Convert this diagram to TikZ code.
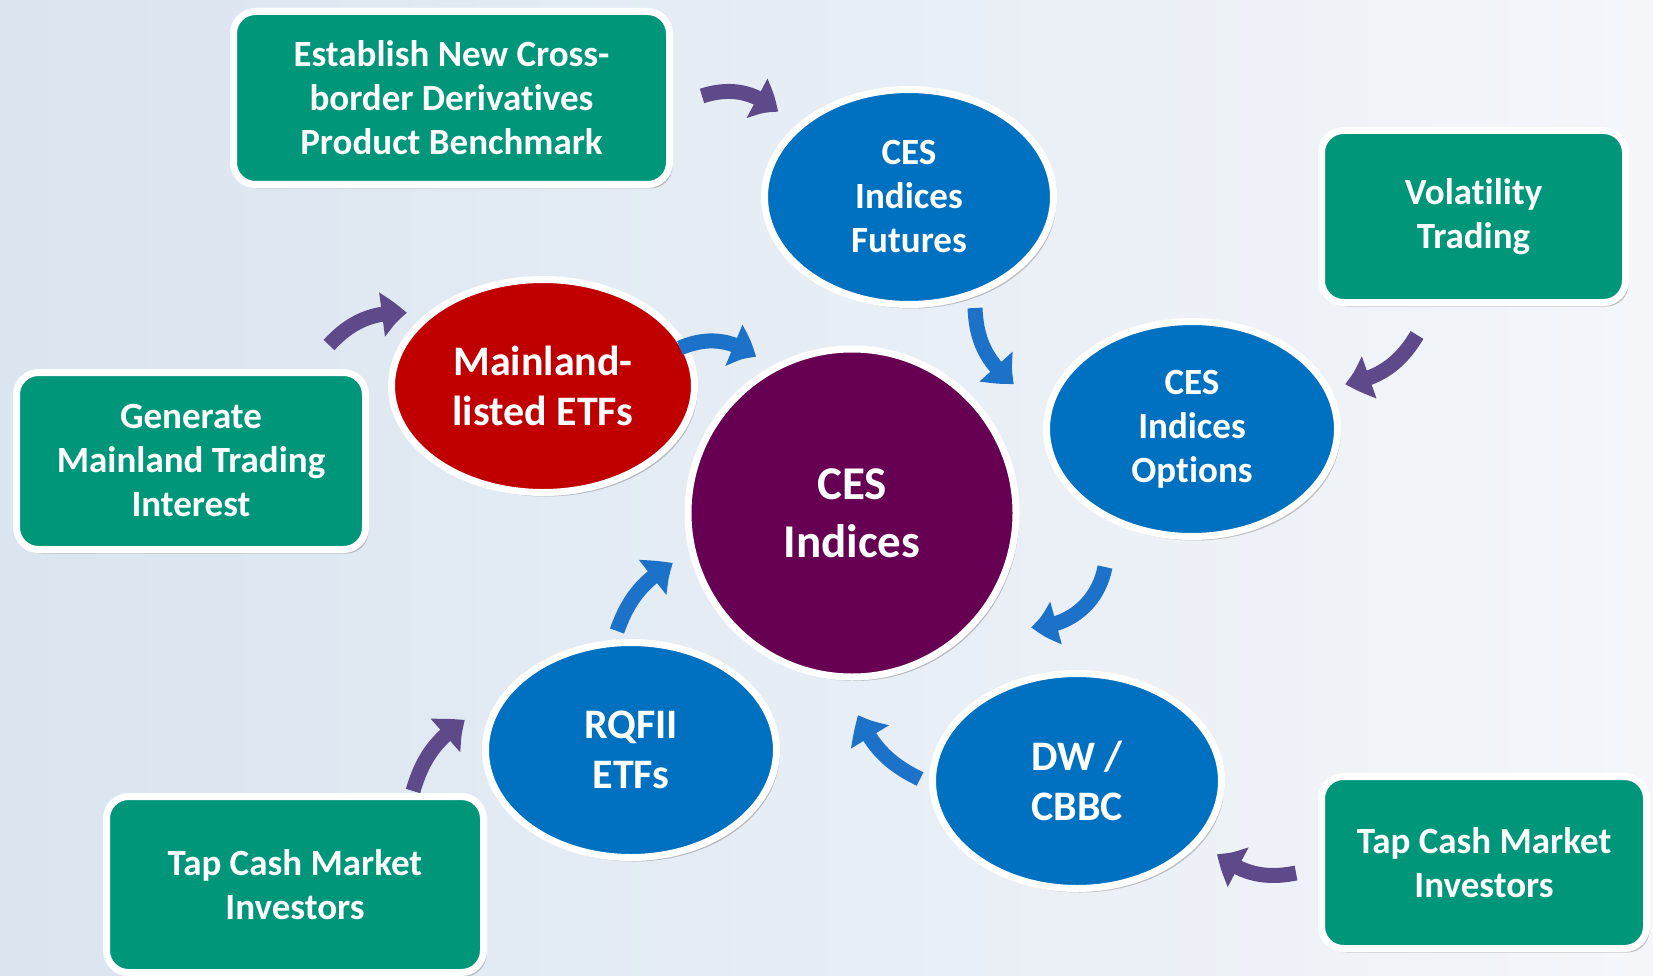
\documentclass[tikz,border=0pt]{standalone}
\usepackage{fontspec}
\setmainfont[Ligatures={NoCommon,NoContextual},Contextuals={NoAlternate}]{Carlito}
\usetikzlibrary{shapes.geometric,shadows,arrows.meta,bending}
\newcommand{\myti}{t\kern0pt i}
\definecolor{cgreen}{RGB}{0,150,122}
\definecolor{cblue}{RGB}{0,112,192}
\definecolor{cred}{RGB}{192,0,0}
\definecolor{cpurple}{RGB}{103,0,83}
\definecolor{abl}{RGB}{28,114,200}
\definecolor{apu}{RGB}{94,74,138}
\definecolor{bgl}{RGB}{218,229,240}
\definecolor{bgr}{RGB}{244,246,250}
\begin{document}
\begin{tikzpicture}[x=1pt,y=-1pt,
  shad/.style={drop shadow={shadow xshift=3pt,shadow yshift=-4pt,opacity=0.3,fill=black!70}},
  box/.style={shad,draw=white,line width=7pt,fill=cgreen,rounded corners=22pt,text=white,align=center,inner sep=0pt,font=\fontsize{37}{44}\selectfont\bfseries},
  ell/.style={shad,ellipse,draw=white,line width=7pt,text=white,align=center,inner sep=0pt},
  sfont/.style={font=\fontsize{37}{44}\selectfont\bfseries},
  lfont/.style={font=\fontsize{42}{50}\selectfont\bfseries},
  barrow/.style={draw=abl,line width=15pt,-{Triangle[length=26pt,width=42pt,bend]}},
  parrow/.style={draw=apu,line width=15pt,-{Triangle[length=26pt,width=42pt,bend]}}]
\useasboundingbox (0,0) rectangle (1653,976);
\fill[left color=bgl,right color=bgr] (0,0) rectangle (1653,976);

% green boxes
\node[box,minimum width=436pt,minimum height=173pt] (est) at (451.5,98) {Establish New Cross-\\border Deriva\myti ves\\Product Benchmark};
\node[box,minimum width=304pt,minimum height=172pt] (vol) at (1473.5,216.5) {Vola\myti lity\\Trading};
\node[box,minimum width=349pt,minimum height=177pt] (gen) at (191,461) {Generate\\Mainland Trading\\Interest};
\node[box,minimum width=377pt,minimum height=176pt] (tapl) at (295,884.5) {Tap Cash Market\\Investors};
\node[box,minimum width=325pt,minimum height=172pt] (tapr) at (1484,862.5) {Tap Cash Market\\Investors};

% ellipses
\node[ell,sfont,fill=cblue,minimum width=289pt,minimum height=215pt] (fut) at (909,197) {CES\\Indices\\Futures};
\node[ell,lfont,fill=cred,minimum width=303pt,minimum height=213pt] (etf) at (543,386) {Mainland-\\listed ETFs};
\node[ell,sfont,fill=cblue,minimum width=291pt,minimum height=215pt] (opt) at (1192,429) {CES\\Indices\\Op\myti ons};
\node[ell,lfont,fill=cblue,minimum width=289pt,minimum height=215pt] (dw) at (1077,781) {DW /\\CBBC};
\node[ell,lfont,fill=cblue,minimum width=291pt,minimum height=215pt] (rq) at (631,750) {RQFII\\ETFs};
\node[ell,circle,fill=cpurple,minimum size=328pt,font=\fontsize{47}{58}\selectfont\bfseries] (ces) at (852,513) {CES\\Indices};

% arrow end points
\coordinate (a1s) at (702,96);  \coordinate (a1e) at (778,112);
\coordinate (a2s) at (329,345); \coordinate (a2e) at (407,313);
\coordinate (a3s) at (680,348); \coordinate (a3e) at (756,357);
\coordinate (a4s) at (975,308); \coordinate (a4e) at (1014,384);
\coordinate (a5s) at (1417,335); \coordinate (a5e) at (1345,384);
\coordinate (a6s) at (1105,567); \coordinate (a6e) at (1031,627);
\coordinate (a7s) at (920,779); \coordinate (a7e) at (858,715);
\coordinate (a8s) at (1296,873); \coordinate (a8e) at (1217,854);
\coordinate (a9s) at (617,631); \coordinate (a9e) at (673,563);
\coordinate (a10s) at (413,791); \coordinate (a10e) at (465,720);

\draw[parrow] (a1s) to[bend left=30] (a1e);
\draw[parrow] (a2s) to[bend left=25] (a2e);
\draw[barrow] (a3s) to[bend left=30] (a3e);
\draw[barrow] (a4s) to[bend right=25] (a4e);
\draw[parrow] (a5s) to[bend left=25] (a5e);
\draw[barrow] (a6s) to[bend left=40] (a6e);
\draw[barrow] (a7s) to[bend left=20] (a7e);
\draw[parrow] (a8s) to[bend left=25] (a8e);
\draw[barrow] (a9s) to[bend left=20] (a9e);
\draw[parrow] (a10s) to[bend left=20] (a10e);
\end{tikzpicture}
\end{document}
